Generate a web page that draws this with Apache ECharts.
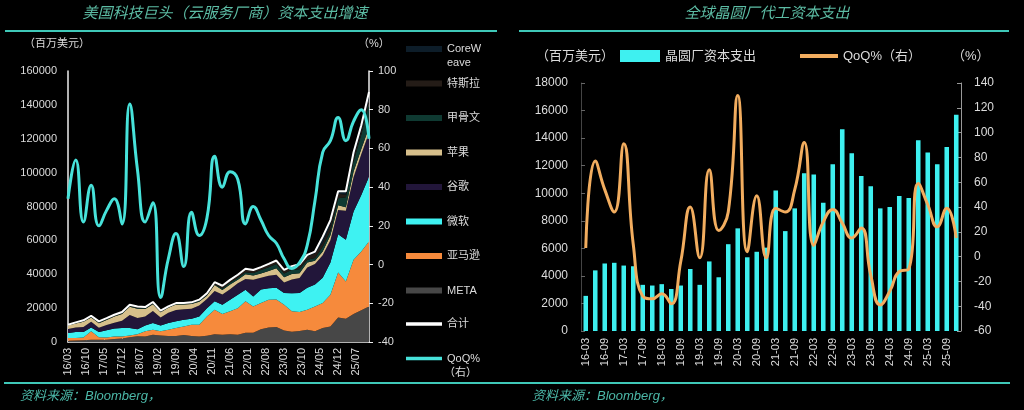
<!DOCTYPE html>
<html><head><meta charset="utf-8">
<script src="https://cdn.jsdelivr.net/npm/echarts@6/dist/echarts.min.js"></script>
<style>html,body{margin:0;padding:0;background:#000;}#c{width:1024px;height:410px;}</style>
</head><body><div id="c"></div>
<script>
// ---------- Left chart data (USD mn, quarterly) ----------
const quarters = ['16/03','16/06','16/09','16/12','17/03','17/06','17/09','17/12','18/03','18/06','18/09','18/12',
  '19/03','19/06','19/09','19/12','20/03','20/06','20/09','20/12','21/03','21/06','21/09','21/12',
  '22/03','22/06','22/09','22/12','23/03','23/06','23/09','23/12','24/03','24/06','24/09','24/12',
  '25/03','25/06','25/09','25/12'];
const META = [800,900,1000,1300,1300,1400,1700,2100,2800,3400,3300,4300,3800,3600,3500,4100,3600,3300,3700,4600,
  4300,4600,4300,5400,5400,7500,8500,8800,6800,6100,6500,7300,6400,8200,9200,14400,13700,16500,18800,21000];
const AMZN = [1600,1500,1700,5000,1500,1300,1600,1200,1000,1200,3000,3000,2500,3700,4700,5100,6600,6900,11400,14400,
  12200,13500,15700,18600,15600,15500,16400,16300,15200,12000,11200,11700,14600,14800,18700,26600,22000,32000,34600,38300];
const MSFT = [2900,3500,3200,2300,3100,4300,4600,4900,4400,3000,3500,3900,3500,3900,4000,4000,3500,4900,4900,5000,
  5500,6900,7900,6800,5900,8000,6900,7000,6900,10700,11200,13000,13000,15000,19100,22600,24600,28500,33400,38300];
const GOOG = [2400,2600,3000,3300,2500,3000,3400,4400,7800,6500,5300,7100,4600,6100,6700,6100,6000,6400,5400,6100,
  6000,6100,6800,6400,9800,7000,7300,7600,6300,8100,8900,12000,12000,13200,13100,14300,17200,20200,24000,26000];
const AAPL = [2000,2400,3000,2600,2700,3000,3700,4000,4800,5600,4400,4000,3100,2900,3200,2800,2700,2300,1900,3500,
  2700,2800,2100,2800,2500,2500,2800,3800,3100,3300,2800,2900,1900,2200,2900,2900,2000,3500,3200,3000];
const ORCL = [300,300,400,400,400,400,400,400,400,400,400,400,400,400,400,400,500,500,500,500,
  900,1300,1100,1200,1500,2000,2200,2600,2200,2500,2300,1600,1700,2800,2500,4000,5900,6000,8500,14000];
const TSLA = [200,400,500,600,700,700,700,700,800,900,700,900,600,400,500,500,500,700,1000,1200,
  1600,1500,1800,2000,1800,1700,2000,2000,2100,2100,3000,2100,2800,2300,3500,2800,1500,2400,2200,2500];
const CRWV = [0,0,0,0,0,0,0,0,0,0,0,0,0,0,0,0,0,0,0,0,0,0,0,0,0,0,0,0,0,0,0,800,1000,3700,3000,1400,2100,2900,3300,4500];
const QOQ_L = [34,54,22,41,20,28,34,21,83,49,22,32,-17,3,16,-1,27,15,24,56,40,48,44,21,30,23,15,11,3,-2,1,10,33,58,64,76,64,74,80,65];

// ---------- Right chart data ----------
const quarters2 = ['16-03','16-06','16-09','16-12','17-03','17-06','17-09','17-12','18-03','18-06','18-09','18-12',
  '19-03','19-06','19-09','19-12','20-03','20-06','20-09','20-12','21-03','21-06','21-09','21-12',
  '22-03','22-06','22-09','22-12','23-03','23-06','23-09','23-12','24-03','24-06','24-09','24-12',
  '25-03','25-06','25-09','25-12'];
const FAB = [2550,4400,4900,4950,4750,4700,3350,3300,3400,3050,3300,4500,3350,5050,3900,6300,7450,5350,5750,6050,
  10200,7250,8900,11450,11350,9300,12100,14650,12900,11250,10500,8900,9000,9800,9650,13850,12950,12100,13350,15700];
const QOQ_R = [7,77,54,36,91,10,-32,-34,-30,-38,-4,40,-1,70,21,36,130,4,49,-1,39,36,54,92,9,28,38,27,15,23,-15,-39,-28,-12,-10,59,42,24,39,15];

// monthly category axis for left chart (16/03 .. 25/12)
const months = [];
for (let y = 16; y <= 25; y++) for (let m = 1; m <= 12; m++) { if (y === 16 && m < 3) continue; months.push(y + '/' + String(m).padStart(2, '0')); }

const FF = "'Liberation Sans','Noto Sans CJK SC',sans-serif";
const LBL = '#dcdcdc';
const plain = v => String(v);
const pair = arr => quarters.map((q, i) => [q, arr[i]]);

const stackDefs = [
  ['META', META, '#474747'],
  ['亚马逊', AMZN, '#f68a3c'],
  ['微软', MSFT, '#3ef2f2'],
  ['谷歌', GOOG, '#22163a'],
  ['苹果', AAPL, '#d6bf8b'],
  ['甲骨文', ORCL, '#0f3a32'],
  ['特斯拉', TSLA, '#241c17'],
  ['CoreWeave', CRWV, '#0d1d29']
];
const totals = quarters.map((q, i) => [q, stackDefs.reduce((s, d) => s + d[1][i], 0)]);

const series = stackDefs.map(d => ({
  name: d[0], type: 'line', stack: 'cap', xAxisIndex: 0, yAxisIndex: 0,
  data: pair(d[1]), symbol: 'none', color: d[2],
  lineStyle: { width: 0 }, areaStyle: { color: d[2], opacity: 1 }, z: 2
}));
series.push({ name: '合计', type: 'line', xAxisIndex: 0, yAxisIndex: 0, data: totals, symbol: 'none',
  color: '#ffffff', lineStyle: { width: 2, color: '#ffffff' }, z: 3 });
series.push({ name: 'QoQ%', type: 'line', xAxisIndex: 0, yAxisIndex: 1, data: pair(QOQ_L), symbol: 'none', smooth: 0.5,
  color: '#47e2da', lineStyle: { width: 3, color: '#47e2da' }, z: 4 });
series.push({ name: '晶圆厂资本支出', type: 'bar', xAxisIndex: 1, yAxisIndex: 2, data: FAB, barWidth: '48%',
  color: '#3ef0f0', itemStyle: { color: '#3ef0f0' } });
series.push({ name: 'QoQ%（右）', type: 'line', xAxisIndex: 1, yAxisIndex: 3, data: QOQ_R, symbol: 'none', smooth: 0.5,
  color: '#f2ad5f', lineStyle: { width: 3, color: '#f2ad5f' }, z: 4 });

const txt = (x, y, text, o) => ({ type: 'text', x, y, silent: true,
  style: Object.assign({ text, fill: LBL, font: '11px ' + FF, align: 'left', verticalAlign: 'middle' }, o || {}) });
const hline = (x1, y1, x2, c, w) => ({ type: 'line', silent: true, shape: { x1, y1, x2, y2: y1 }, style: { stroke: c, lineWidth: w } });

const option = {
  backgroundColor: '#000',
  animation: false,
  textStyle: { fontFamily: FF },
  grid: [
    { left: 68, top: 71, width: 301, height: 271 },
    { left: 581, top: 83, width: 380, height: 248 }
  ],
  xAxis: [
    { gridIndex: 0, type: 'category', data: months, boundaryGap: false,
      axisLine: { lineStyle: { color: '#eeeeee', width: 1.5 } },
      axisTick: { inside: true, interval: 6, length: 4, lineStyle: { color: '#eeeeee' } },
      axisLabel: { interval: 6, rotate: 90, fontSize: 11, color: LBL, margin: 6, fontFamily: FF },
      splitLine: { show: false } },
    { gridIndex: 1, type: 'category', data: quarters2,
      axisLine: { show: false }, axisTick: { show: false },
      axisLabel: { interval: 1, rotate: 90, fontSize: 11, color: LBL, margin: 7, fontFamily: FF },
      splitLine: { show: false } }
  ],
  yAxis: [
    { gridIndex: 0, type: 'value', min: 0, max: 160000, interval: 20000,
      axisLine: { show: true, lineStyle: { color: '#eeeeee', width: 1.5 } }, axisTick: { show: false },
      axisLabel: { fontSize: 11, color: LBL, margin: 11, fontFamily: FF, formatter: plain }, splitLine: { show: false } },
    { gridIndex: 0, type: 'value', position: 'right', min: -40, max: 100, interval: 20,
      axisLine: { show: true, lineStyle: { color: '#eeeeee', width: 1.5 } },
      axisTick: { show: true, length: 4, lineStyle: { color: '#eeeeee' } },
      axisLabel: { fontSize: 11, color: LBL, margin: 9, fontFamily: FF, formatter: plain }, splitLine: { show: false } },
    { gridIndex: 1, type: 'value', min: 0, max: 18000, interval: 2000,
      axisLine: { show: true, lineStyle: { color: '#444444' } },
      axisTick: { show: true, inside: true, length: 4, lineStyle: { color: '#666666' } },
      axisLabel: { fontSize: 12, color: LBL, margin: 13, fontFamily: FF, formatter: plain }, splitLine: { show: false } },
    { gridIndex: 1, type: 'value', position: 'right', min: -60, max: 140, interval: 20,
      axisLine: { show: true, lineStyle: { color: '#999999' } },
      axisTick: { show: true, inside: true, length: 4, lineStyle: { color: '#999999' } },
      axisLabel: { fontSize: 12, color: LBL, margin: 13, fontFamily: FF, formatter: plain }, splitLine: { show: false } }
  ],
  legend: [
    { orient: 'vertical', left: 406, top: 42, padding: 0, itemWidth: 36, itemHeight: 6, itemGap: 20.5, icon: 'rect',
      data: ['CoreWeave', '特斯拉', '甲骨文', '苹果', '谷歌', '微软', '亚马逊', 'META'],
      formatter: n => (n === 'CoreWeave' ? 'CoreW' : n),
      textStyle: { color: LBL, fontSize: 11, lineHeight: 14, fontFamily: FF } },
    { orient: 'vertical', left: 406, top: 317, padding: 0, itemWidth: 36, itemHeight: 3.5, itemGap: 20.5, icon: 'rect',
      data: ['合计', 'QoQ%'],
      textStyle: { color: LBL, fontSize: 11, lineHeight: 14, fontFamily: FF } },
    { left: 620, top: 49, padding: 0, itemWidth: 40, itemHeight: 12, icon: 'rect', data: ['晶圆厂资本支出'],
      textStyle: { color: LBL, fontSize: 13, lineHeight: 14, fontFamily: FF } },
    { left: 800, top: 49, padding: 0, itemWidth: 38, itemHeight: 4, icon: 'rect', data: ['QoQ%（右）'],
      textStyle: { color: LBL, fontSize: 13, lineHeight: 14, fontFamily: FF } }
  ],
  graphic: [
    txt(225, 14, '美国科技巨头（云服务厂商）资本支出增速', { align: 'center', fill: '#5cbca4', font: 'italic 15px ' + FF }),
    txt(767, 14, '全球晶圆厂代工资本支出', { align: 'center', fill: '#5cbca4', font: 'italic 15px ' + FF }),
    hline(5, 31, 497, '#3fc8b8', 2),
    hline(519, 31, 1009, '#3fc8b8', 2),
    hline(4, 383, 1010, '#3fc8b8', 2),
    txt(24, 44, '（百万美元）', { font: '11px ' + FF }),
    txt(358, 44, '（%）', { font: '11px ' + FF }),
    txt(536, 56, '（百万美元）', { font: '13px ' + FF }),
    txt(952, 56, '（%）', { font: '13px ' + FF }),
    txt(447, 63, 'eave', { font: '11px ' + FF }),
    txt(444, 373, '（右）', { font: '11px ' + FF }),
    txt(20, 396, '资料来源：Bloomberg，', { fill: '#4cb8a8', font: 'italic 13px ' + FF }),
    txt(532, 396, '资料来源：Bloomberg，', { fill: '#4cb8a8', font: 'italic 13px ' + FF })
  ],
  series
};
echarts.init(document.getElementById('c')).setOption(option);
</script></body></html>
